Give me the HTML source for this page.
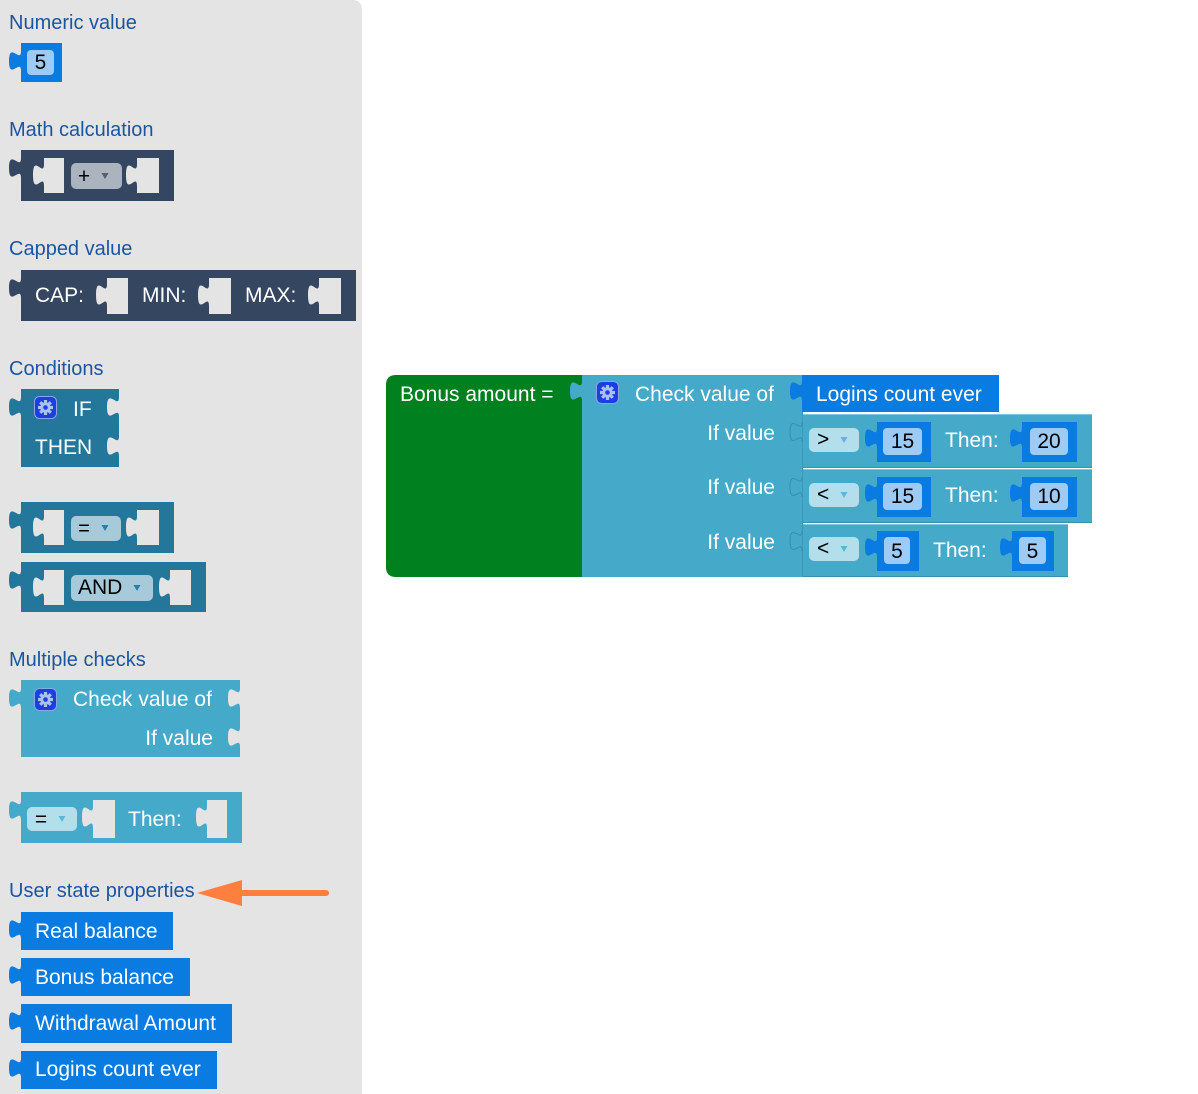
<!DOCTYPE html>
<html><head><meta charset="utf-8"><style>
html,body{margin:0;padding:0;background:#fff;}
svg{display:block;}
text{font-family:"Liberation Sans",Arial,sans-serif;font-size:20px;}
.lbl{fill:#1b559f;}
.w{fill:#fff;font-size:21px;}
.b{fill:#000;font-size:21px;}
</style></head><body>
<svg width="1198" height="1094" viewBox="0 0 1198 1094" xmlns="http://www.w3.org/2000/svg">
<defs>
<g id="gear">
<rect x="0.5" y="0.5" width="22" height="22" rx="5" fill="#1d3fdf" stroke="#86a6ee" stroke-width="1"/>
<g fill="#a9c1f5" transform="translate(11.5,11.5)">
<circle r="5.2"/>
<rect x="-1.6" y="-7.5" width="3.2" height="3.5"/>
<rect x="-1.6" y="4" width="3.2" height="3.5"/>
<rect x="-7.5" y="-1.6" width="3.5" height="3.2"/>
<rect x="4" y="-1.6" width="3.5" height="3.2"/>
<rect x="-1.6" y="-7.5" width="3.2" height="3.5" transform="rotate(45)"/>
<rect x="-1.6" y="-7.5" width="3.2" height="3.5" transform="rotate(-45)"/>
<rect x="-1.6" y="4" width="3.2" height="3.5" transform="rotate(45)"/>
<rect x="-1.6" y="4" width="3.2" height="3.5" transform="rotate(-45)"/>
</g>
<circle cx="11.5" cy="11.5" r="2.3" fill="#1d3fdf"/>
</g>
</defs>

<!-- Sidebar -->
<path d="M0,0 H352 Q362,0 362,10 V1094 H0 Z" fill="#e4e4e4"/>

<!-- Numeric value -->
<text class="lbl" x="9" y="29">Numeric value</text>
<rect x="21" y="43" width="41" height="39" fill="#0a7be0"/>
<path d="M21,51 c0,13 -12,-10 -12,10 s12,-3 12,10 Z" fill="#0a7be0"/>
<rect x="27" y="50" width="27" height="25" rx="4" fill="#9dcbf5"/>
<text class="b" x="40.5" y="69" text-anchor="middle">5</text>

<!-- Math calculation -->
<text class="lbl" x="9" y="136">Math calculation</text>
<rect x="21" y="150" width="153" height="51" fill="#344660"/>
<path d="M21,158 c0,13 -12,-10 -12,10 s12,-3 12,10 Z" fill="#344660"/>
<rect x="44" y="158" width="20" height="35" fill="#e4e4e4"/>
<path d="M44,164 c0,14 -11,-11 -11,11 s11,-3 11,11 Z" fill="#e4e4e4"/>
<rect x="71" y="163" width="51" height="26" rx="5" fill="#aab3be"/>
<text class="b" x="84" y="183" text-anchor="middle">+</text>
<polygon points="101.5,173 108.5,173 105,179" fill="#556070"/>
<rect x="137" y="158" width="22" height="35" fill="#e4e4e4"/>
<path d="M137,164 c0,14 -11,-11 -11,11 s11,-3 11,11 Z" fill="#e4e4e4"/>

<!-- Capped value -->
<text class="lbl" x="9" y="255">Capped value</text>
<rect x="21" y="270" width="335" height="51" fill="#344660"/>
<path d="M21,278 c0,13 -12,-10 -12,10 s12,-3 12,10 Z" fill="#344660"/>
<text class="w" x="35" y="302">CAP:</text>
<rect x="107" y="278" width="21" height="36" fill="#e4e4e4"/>
<path d="M107,284 c0,14 -11,-11 -11,11 s11,-3 11,11 Z" fill="#e4e4e4"/>
<text class="w" x="142" y="302">MIN:</text>
<rect x="209" y="278" width="22" height="36" fill="#e4e4e4"/>
<path d="M209,284 c0,14 -11,-11 -11,11 s11,-3 11,11 Z" fill="#e4e4e4"/>
<text class="w" x="245" y="302">MAX:</text>
<rect x="319" y="278" width="22" height="36" fill="#e4e4e4"/>
<path d="M319,284 c0,14 -11,-11 -11,11 s11,-3 11,11 Z" fill="#e4e4e4"/>

<!-- Conditions -->
<text class="lbl" x="9" y="375">Conditions</text>
<rect x="21" y="389" width="98" height="78" fill="#23779b"/>
<path d="M21,397 c0,13 -12,-10 -12,10 s12,-3 12,10 Z" fill="#23779b"/>
<path d="M119,397 c0,13 -12,-10 -12,10 s12,-3 12,10 Z" fill="#e4e4e4"/>
<path d="M119,436 c0,13 -12,-10 -12,10 s12,-3 12,10 Z" fill="#e4e4e4"/>
<use href="#gear" x="34" y="396"/>
<text class="w" x="73" y="416">IF</text>
<text class="w" x="35" y="454">THEN</text>

<rect x="21" y="502" width="153" height="51" fill="#23779b"/>
<path d="M21,510 c0,13 -12,-10 -12,10 s12,-3 12,10 Z" fill="#23779b"/>
<rect x="44" y="510" width="20" height="35" fill="#e4e4e4"/>
<path d="M44,516 c0,14 -11,-11 -11,11 s11,-3 11,11 Z" fill="#e4e4e4"/>
<rect x="71" y="516" width="50" height="25" rx="5" fill="#a7cadb"/>
<text class="b" x="84" y="535" text-anchor="middle">=</text>
<polygon points="101.5,525 108.5,525 105,531" fill="#2a7ea3"/>
<rect x="137" y="510" width="22" height="35" fill="#e4e4e4"/>
<path d="M137,516 c0,14 -11,-11 -11,11 s11,-3 11,11 Z" fill="#e4e4e4"/>

<rect x="21" y="562" width="185" height="50" fill="#23779b"/>
<path d="M21,570 c0,13 -12,-10 -12,10 s12,-3 12,10 Z" fill="#23779b"/>
<rect x="44" y="570" width="20" height="35" fill="#e4e4e4"/>
<path d="M44,576 c0,14 -11,-11 -11,11 s11,-3 11,11 Z" fill="#e4e4e4"/>
<rect x="71" y="575" width="82" height="26" rx="5" fill="#a7cadb"/>
<text class="b" x="78" y="594">AND</text>
<polygon points="133.5,585 140.5,585 137,591" fill="#2a7ea3"/>
<rect x="170" y="570" width="21" height="35" fill="#e4e4e4"/>
<path d="M170,576 c0,14 -11,-11 -11,11 s11,-3 11,11 Z" fill="#e4e4e4"/>

<!-- Multiple checks -->
<text class="lbl" x="9" y="666">Multiple checks</text>
<rect x="21" y="680" width="219" height="77" fill="#45a9c9"/>
<path d="M21,688 c0,13 -12,-10 -12,10 s12,-3 12,10 Z" fill="#45a9c9"/>
<path d="M240,688 c0,13 -12,-10 -12,10 s12,-3 12,10 Z" fill="#e4e4e4"/>
<path d="M240,727 c0,13 -12,-10 -12,10 s12,-3 12,10 Z" fill="#e4e4e4"/>
<use href="#gear" x="34" y="688"/>
<text class="w" x="73" y="706">Check value of</text>
<text class="w" x="213" y="745" text-anchor="end">If value</text>

<rect x="21" y="792" width="221" height="51" fill="#45a9c9"/>
<path d="M21,800 c0,13 -12,-10 -12,10 s12,-3 12,10 Z" fill="#45a9c9"/>
<rect x="27" y="807" width="50" height="24" rx="5" fill="#b3deec"/>
<text class="b" x="41" y="826" text-anchor="middle">=</text>
<polygon points="58.5,816 65.5,816 62,822" fill="#5db7d6"/>
<rect x="93" y="800" width="22" height="38" fill="#e4e4e4"/>
<path d="M93,806 c0,14 -11,-11 -11,11 s11,-3 11,11 Z" fill="#e4e4e4"/>
<text class="w" x="128" y="826">Then:</text>
<rect x="207" y="800" width="20" height="38" fill="#e4e4e4"/>
<path d="M207,806 c0,14 -11,-11 -11,11 s11,-3 11,11 Z" fill="#e4e4e4"/>

<!-- User state properties -->
<text class="lbl" x="9" y="897">User state properties</text>
<line x1="240" y1="893" x2="326" y2="893" stroke="#ff7f3f" stroke-width="6" stroke-linecap="round"/>
<polygon points="197,893 242,880 242,906" fill="#ff7f3f"/>

<rect x="21" y="912" width="152" height="38" fill="#0a7be0"/>
<path d="M21,919 c0,13 -12,-10 -12,10 s12,-3 12,10 Z" fill="#0a7be0"/>
<text class="w" x="35" y="938">Real balance</text>
<rect x="21" y="958" width="169" height="38" fill="#0a7be0"/>
<path d="M21,965 c0,13 -12,-10 -12,10 s12,-3 12,10 Z" fill="#0a7be0"/>
<text class="w" x="35" y="984">Bonus balance</text>
<rect x="21" y="1004" width="211" height="39" fill="#0a7be0"/>
<path d="M21,1011 c0,13 -12,-10 -12,10 s12,-3 12,10 Z" fill="#0a7be0"/>
<text class="w" x="35" y="1030">Withdrawal Amount</text>
<rect x="21" y="1051" width="196" height="38" fill="#0a7be0"/>
<path d="M21,1058 c0,13 -12,-10 -12,10 s12,-3 12,10 Z" fill="#0a7be0"/>
<text class="w" x="35" y="1076">Logins count ever</text>

<!-- Main diagram -->
<path d="M396,375 H582 V577 H396 Q386,577 386,567 V385 Q386,375 396,375 Z" fill="#00801f"/>
<text class="w" x="400" y="401">Bonus amount =</text>

<rect x="582" y="375" width="220" height="202" fill="#45a9c9"/>
<path d="M582,381 c0,13 -12,-10 -12,10 s12,-3 12,10 Z" fill="#45a9c9"/>
<use href="#gear" x="596" y="381"/>
<text class="w" x="635" y="401">Check value of</text>
<text class="w" x="775" y="440" text-anchor="end">If value</text>
<text class="w" x="775" y="494" text-anchor="end">If value</text>
<text class="w" x="775" y="549" text-anchor="end">If value</text>

<rect x="802" y="375" width="197" height="37" fill="#0a7be0"/>
<path d="M802,381 c0,13 -12,-10 -12,10 s12,-3 12,10 Z" fill="#0a7be0"/>
<text class="w" x="816" y="401">Logins count ever</text>

<!-- rows -->
<rect x="802" y="414" width="290" height="53" fill="#45a9c9"/>
<rect x="802" y="469" width="290" height="53" fill="#45a9c9"/>
<rect x="802" y="524" width="266" height="53" fill="#45a9c9"/>
<line x1="802" y1="414.5" x2="1092" y2="414.5" stroke="#7ec6de" stroke-width="1"/>
<line x1="802" y1="469.5" x2="1092" y2="469.5" stroke="#7ec6de" stroke-width="1"/>
<line x1="802" y1="524.5" x2="1068" y2="524.5" stroke="#7ec6de" stroke-width="1"/>
<line x1="802" y1="467.5" x2="1092" y2="467.5" stroke="#3690b0" stroke-width="1"/>
<line x1="802" y1="522.5" x2="1092" y2="522.5" stroke="#3690b0" stroke-width="1"/>
<line x1="802" y1="576.5" x2="1068" y2="576.5" stroke="#3690b0" stroke-width="1"/>
<line x1="802.5" y1="412" x2="802.5" y2="577" stroke="#3a98b8" stroke-width="1"/>
<path d="M802,422 c0,13 -12,-10 -12,10 s12,-3 12,10" fill="none" stroke="#3690b0" stroke-width="1"/>
<path d="M802,477 c0,13 -12,-10 -12,10 s12,-3 12,10" fill="none" stroke="#3690b0" stroke-width="1"/>
<path d="M802,531 c0,13 -12,-10 -12,10 s12,-3 12,10" fill="none" stroke="#3690b0" stroke-width="1"/>

<!-- row 1 -->
<rect x="809" y="428" width="50" height="24" rx="5" fill="#b3deec"/>
<text class="b" x="817" y="446">&gt;</text>
<polygon points="840.5,437 847.5,437 844,443" fill="#5db7d6"/>
<rect x="877" y="422" width="54" height="40" fill="#0a7be0"/>
<path d="M877,428 c0,13 -12,-10 -12,10 s12,-3 12,10 Z" fill="#0a7be0"/>
<rect x="883" y="428" width="39" height="27" rx="4" fill="#9dcbf5"/>
<text class="b" x="902.5" y="448" text-anchor="middle">15</text>
<text class="w" x="945" y="447">Then:</text>
<rect x="1022" y="422" width="55" height="40" fill="#0a7be0"/>
<path d="M1022,428 c0,13 -12,-10 -12,10 s12,-3 12,10 Z" fill="#0a7be0"/>
<rect x="1030" y="428" width="38" height="27" rx="4" fill="#9dcbf5"/>
<text class="b" x="1049" y="448" text-anchor="middle">20</text>

<!-- row 2 -->
<rect x="809" y="483" width="50" height="24" rx="5" fill="#b3deec"/>
<text class="b" x="817" y="501">&lt;</text>
<polygon points="840.5,492 847.5,492 844,498" fill="#5db7d6"/>
<rect x="877" y="477" width="54" height="40" fill="#0a7be0"/>
<path d="M877,483 c0,13 -12,-10 -12,10 s12,-3 12,10 Z" fill="#0a7be0"/>
<rect x="883" y="483" width="39" height="27" rx="4" fill="#9dcbf5"/>
<text class="b" x="902.5" y="503" text-anchor="middle">15</text>
<text class="w" x="945" y="502">Then:</text>
<rect x="1022" y="477" width="55" height="40" fill="#0a7be0"/>
<path d="M1022,483 c0,13 -12,-10 -12,10 s12,-3 12,10 Z" fill="#0a7be0"/>
<rect x="1030" y="483" width="38" height="27" rx="4" fill="#9dcbf5"/>
<text class="b" x="1049" y="503" text-anchor="middle">10</text>

<!-- row 3 -->
<rect x="809" y="537" width="50" height="24" rx="5" fill="#b3deec"/>
<text class="b" x="817" y="555">&lt;</text>
<polygon points="840.5,546 847.5,546 844,552" fill="#5db7d6"/>
<rect x="877" y="531" width="42" height="40" fill="#0a7be0"/>
<path d="M877,537 c0,13 -12,-10 -12,10 s12,-3 12,10 Z" fill="#0a7be0"/>
<rect x="884" y="537" width="26" height="27" rx="4" fill="#9dcbf5"/>
<text class="b" x="897" y="558" text-anchor="middle">5</text>
<text class="w" x="933" y="557">Then:</text>
<rect x="1012" y="531" width="42" height="40" fill="#0a7be0"/>
<path d="M1012,537 c0,13 -12,-10 -12,10 s12,-3 12,10 Z" fill="#0a7be0"/>
<rect x="1019" y="537" width="27" height="27" rx="4" fill="#9dcbf5"/>
<text class="b" x="1032.5" y="558" text-anchor="middle">5</text>
</svg>
</body></html>
